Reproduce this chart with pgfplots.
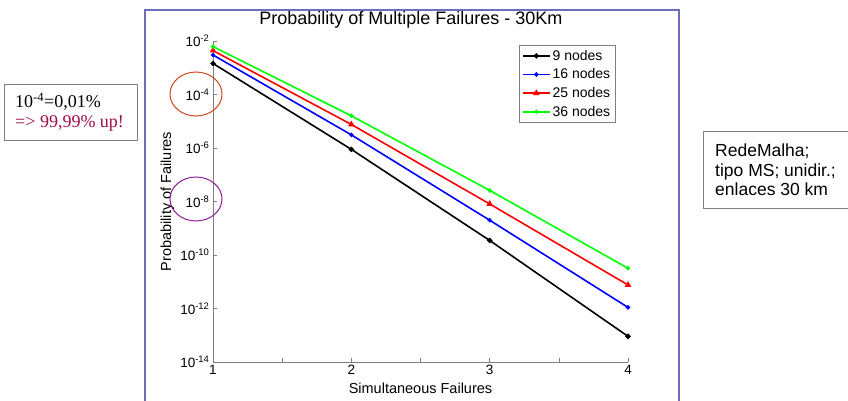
\documentclass[border=0pt]{standalone}
\usepackage{pgfplots}
\pgfplotsset{compat=1.18}
\usepackage{fontspec}
\setmainfont{Liberation Sans}
\newfontfamily\timesfont{Liberation Serif}
\definecolor{slideframe}{RGB}{110,110,190}
\definecolor{upred}{RGB}{160,10,70}
\definecolor{circorange}{RGB}{210,70,30}
\definecolor{circpurple}{RGB}{140,30,150}

\begin{document}
\begin{tikzpicture}
\path[use as bounding box] (0pt,0pt) rectangle (848pt,-401pt);
% slide frame
\draw[slideframe, line width=1.5pt] (145pt,-10pt) rectangle (679pt,-420pt);

\begin{axis}[
  scale only axis, width=415pt, height=321pt,
  at={(213pt,-362pt)}, anchor=south west,
  xmin=1, xmax=4, ymode=log, ymin=1e-14, ymax=1e-2,
  axis x line=bottom, axis y line=left,
  axis line style={gray, -}, tick style={gray, thin},
  tick align=inside, major tick length=4pt, minor tick num=0,
  xtick={1,1.5,2,2.5,3,3.5,4}, xticklabels={1,,2,,3,,4},
  ytick={1e-14,1e-12,1e-10,1e-8,1e-6,1e-4,1e-2},
  yticklabels={10\textsuperscript{-14},10\textsuperscript{-12},10\textsuperscript{-10},10\textsuperscript{-8},10\textsuperscript{-6},10\textsuperscript{-4},10\textsuperscript{-2}},
  tick label style={font=\fontsize{13.5}{15}\selectfont},
  title={Probability of Multiple Failures - 30Km},
  title style={font=\fontsize{18}{21}\selectfont, at={(axis description cs:0.477,1.047)}, anchor=center},
  xlabel={Simultaneous Failures},
  xlabel style={font=\fontsize{14.5}{16}\selectfont, at={(axis description cs:0.5,-0.081)}, anchor=center},
  ylabel={Probability of Failures},
  ylabel style={font=\fontsize{14.5}{16}\selectfont, at={(axis description cs:-0.11,0.5)}, anchor=center},
  clip=false,
  legend style={at={(rel axis cs:0.737,0.988)}, anchor=north west, draw=gray,
    font=\fontsize{14}{16}\selectfont, row sep=3pt, inner xsep=3pt, inner ysep=3pt},
  legend cell align=left,
  legend image code/.code={\draw[mark repeat=2,mark phase=2,#1,line width=1.6pt] plot coordinates {(0pt,0pt) (13.5pt,0pt) (27pt,0pt)};},
  every axis plot/.append style={line width=1.6pt},
]
\addplot[black, mark=*, mark size=1.8pt] coordinates {(1,1.45e-3) (2,8.9e-7) (3,3.5e-10) (4,9.1e-14)};
\addplot[blue, mark=*, mark size=1.3pt] coordinates {(1,3.0e-3) (2,3.1e-6) (3,2.0e-9) (4,1.1e-12)};
\addplot[red, mark=triangle*, mark size=2.3pt] coordinates {(1,4.4e-3) (2,7.6e-6) (3,8.1e-9) (4,7.6e-12)};
\addplot[green, mark=*, mark size=1.3pt] coordinates {(1,6.2e-3) (2,1.6e-5) (3,2.6e-8) (4,3.2e-11)};
\legend{9 nodes,16 nodes,25 nodes,36 nodes}
\end{axis}

% highlight circles around tick labels
\draw[circorange, line width=1pt] (196pt,-94pt) ellipse (26pt and 22pt);
\draw[circpurple, line width=1pt] (196pt,-199pt) ellipse (26pt and 22pt);

% left annotation
\draw[gray, line width=0.8pt] (4pt,-84pt) rectangle (137pt,-140pt);
\node[anchor=base west, inner sep=0pt, font=\timesfont\fontsize{18}{20}\selectfont] at (15pt,-108pt) {10\textsuperscript{-4}=0,01\%};
\node[anchor=base west, inner sep=0pt, font=\timesfont\fontsize{18}{20}\selectfont, text=upred] at (15pt,-128pt) {=> 99,99\% up!};

% right annotation
\draw[gray, line width=0.8pt] (703pt,-131pt) rectangle (852pt,-208pt);
\node[anchor=base west, inner sep=0pt, font=\fontsize{17.5}{20}\selectfont] at (715pt,-157pt) {RedeMalha;};
\node[anchor=base west, inner sep=0pt, font=\fontsize{17.5}{20}\selectfont] at (715pt,-176pt) {tipo MS; unidir.;};
\node[anchor=base west, inner sep=0pt, font=\fontsize{17.5}{20}\selectfont] at (715pt,-195pt) {enlaces 30 km};
\end{tikzpicture}
\end{document}
